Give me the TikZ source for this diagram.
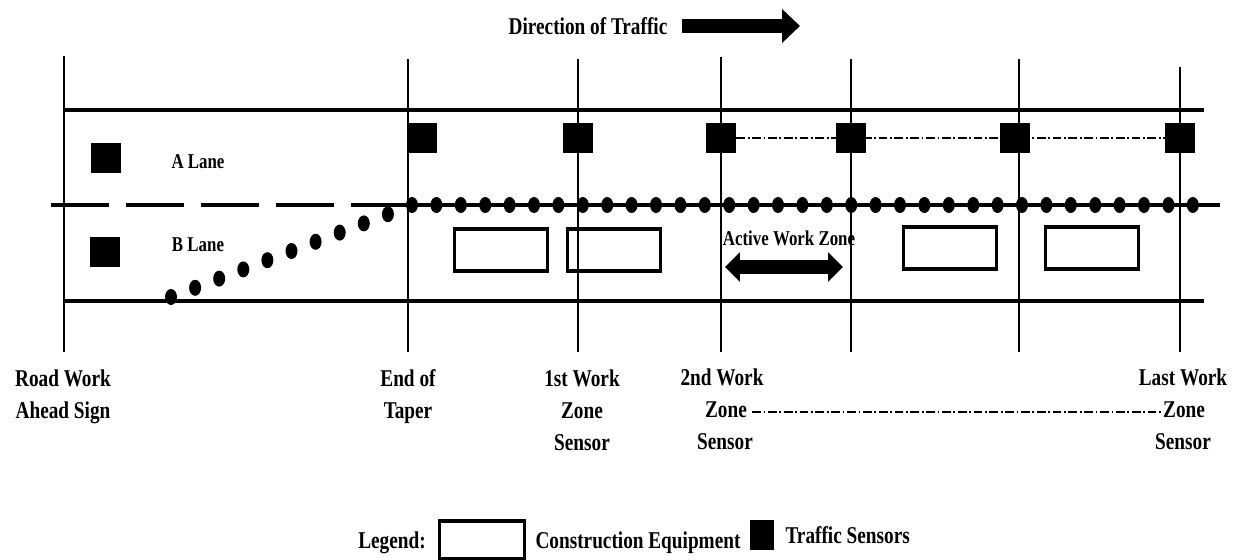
\documentclass[tikz,border=0pt]{standalone}
\usepackage{fontspec}
\setmainfont{Liberation Serif}[FakeStretch=0.8]
\usetikzlibrary{arrows.meta,positioning,shapes.geometric}

\begin{document}
\begin{tikzpicture}[x=0.02cm,y=-0.02cm,
    font=\fontsize{13.7}{18.2}\selectfont\bfseries,
    road/.style={line width=2.1pt},
    post/.style={line width=1.3pt},
    sensor/.style={fill=black,minimum size=6mm,inner sep=0pt},
    equip/.style={draw,line width=2.2pt,minimum width=18.6mm,minimum height=8.4mm,inner sep=0pt},
    cone/.style={ellipse,fill=black,minimum width=2.4mm,minimum height=3.2mm,inner sep=0pt},
    link/.style={line width=0.8pt,dash pattern=on 5pt off 1.5pt on 1pt off 1.5pt},
    lanetext/.style={font=\fontsize{12}{14}\selectfont\bfseries,inner sep=0pt},
    lbl/.style={align=center,anchor=north,inner sep=0pt},
    zl/.style={inner sep=0pt,text height=9.5pt,text depth=3pt}]
  \fill[white] (0,0) rectangle (1236,560);
  \useasboundingbox (0,0) rectangle (1236,560);

  %% direction of traffic
  \node (dir) at (588,26) {Direction of Traffic};
  \coordinate (dira) at (682,26);
  \coordinate (dirb) at (800,26);
  \draw[line width=8.5pt,-{Triangle[width=18.7pt,length=10.2pt]}] (dira) -- (dirb);

  %% posts
  \foreach \x/\t in {64/56,408/59,578/59,721/57,851/59,1019/59,1180/67}
    \draw[post] (\x,\t) -- (\x,352);

  %% road edges and lane line
  \draw[road] (64,110) -- (1204,110);
  \draw[road] (64,301) -- (1204,301);
  \draw[road,dash pattern=on 11.6mm off 3.4mm] (51,205) -- (404,205);
  \draw[road] (395,205) -- (1220,205);

  %% cones: taper and lane closure
  \foreach \i in {0,...,9}
    \node[cone] (t\i) at ({171+24.1*\i},{297-9.2*\i}) {};
  \foreach \i in {0,...,32}
    \node[cone] (c\i) at ({412+24.4*\i},205) {};

  %% sensors
  \node[sensor] (sa) at (106,158) {};
  \node[sensor] (sb) at (105,252) {};
  \foreach \n/\x in {1/422,2/578,3/721,4/851,5/1015,6/1180}
    \node[sensor] (s\n) at (\x,138) {};
  \draw[link] (s3) -- (s6);

  \node[lanetext] (la) at (198,162) {A Lane};
  \node[lanetext] (lb) at (198,245) {B Lane};

  %% construction equipment
  \foreach \n/\x/\y in {1/501/250,2/614/250,3/950/248,4/1092/248}
    \node[equip] (e\n) at (\x,\y) {};

  %% active work zone
  \node[lanetext] (awz) at (789,238) {Active Work Zone};
  \coordinate (awzl) at (725,267);
  \coordinate (awzr) at (843,267);
  \draw[line width=7.4pt,{Triangle[width=16.4pt,length=8.5pt]}-{Triangle[width=16.4pt,length=8.5pt]}] (awzl) -- (awzr);

  %% labels under the posts
  \node[lbl] (lrw) at (63,369) {Road Work\\Ahead Sign};
  \node[lbl] (let) at (408,369) {End of\\Taper};
  \node[lbl] (lz1) at (582,369) {1st Work\\Zone\\Sensor};
  \node[zl] (z2a) at (722,380) {2nd Work};
  \node[zl] (z2b) at (726,412) {Zone};
  \node[zl] (z2c) at (725,444) {Sensor};
  \node[zl] (zla) at (1183,380) {Last Work};
  \node[zl] (zlb) at (1184,412) {Zone};
  \node[zl] (zlc) at (1183,444) {Sensor};
  \draw[link] ([xshift=1mm]z2b.east) -- (zlb.west);

  %% legend
  \node (lg) at (392,543) {Legend:};
  \node[equip,minimum width=17mm,minimum height=7.6mm] (lge) at (482,540) {};
  \node (lgt1) at (638,543) {Construction Equipment};
  \node[sensor,minimum width=4.8mm] (lgs) at (762,535) {};
  \node[right=1mm of lgs] (lgt2) {Traffic Sensors};
\end{tikzpicture}
\end{document}
